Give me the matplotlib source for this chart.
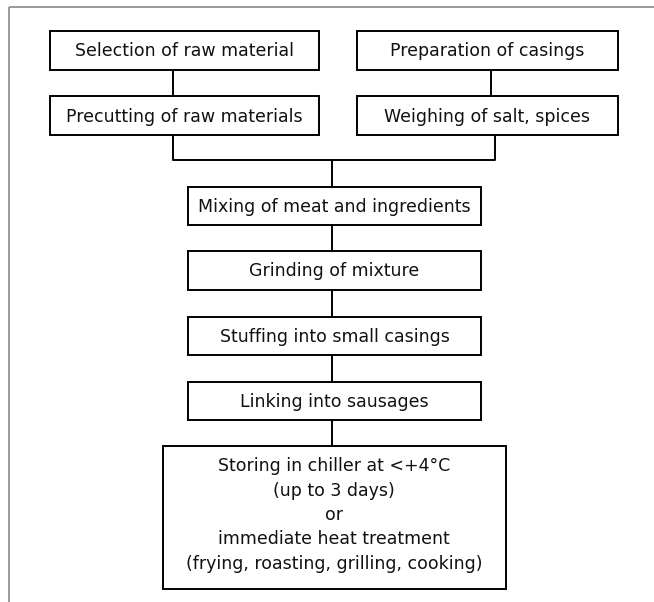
import matplotlib
matplotlib.use('Agg')
import matplotlib.pyplot as plt
from matplotlib.patches import Rectangle

# flowchart steps
left_steps = ['Selection of raw material', 'Precutting of raw materials']
right_steps = ['Preparation of casings', 'Weighing of salt, spices']
main_steps = ['Mixing of meat and ingredients', 'Grinding of mixture',
              'Stuffing into small casings', 'Linking into sausages']
final_lines = ['Storing in chiller at <+4°C', '(up to 3 days)', 'or',
               'immediate heat treatment', '(frying, roasting, grilling, cooking)']

W, H = 654, 602
fig = plt.figure(figsize=(W/100, H/100), dpi=100)
ax = fig.add_axes([0, 0, 1, 1])
ax.set_xlim(0, W)
ax.set_ylim(H, 0)
ax.axis('off')

lw = 1.4
fs = 12.5
tc = '#111111'

def box(x0, x1, y0, y1, text):
    ax.add_patch(Rectangle((x0, y0), x1 - x0, y1 - y0, fill=False,
                           ec='black', lw=lw))
    ax.text((x0 + x1)/2, (y0 + y1)/2 + 1, text, ha='center', va='center',
            fontsize=fs, color=tc)

def line(xs, ys, c='black', w=lw):
    ax.plot(xs, ys, color=c, lw=w, solid_capstyle='butt')

# outer frame (top and left only)
line([9, W], [7, 7], '#888888', 1.2)
line([9, 9], [7, H], '#888888', 1.2)

# two side columns
row_y = [(31, 70), (96, 135)]
for i, (y0, y1) in enumerate(row_y):
    box(50, 319, y0, y1, left_steps[i])
    box(357, 618, y0, y1, right_steps[i])
line([173, 173], [70, 96])
line([491, 491], [70, 96])

# join
line([173, 173, 495, 495], [135, 160, 160, 135])
line([332, 332], [160, 187])

# main column
main_y = [(187, 225), (251, 290), (317, 355), (382, 420)]
for i, (y0, y1) in enumerate(main_y):
    box(188, 481, y0, y1, main_steps[i])
    nxt = main_y[i+1][0] if i + 1 < len(main_y) else 446
    line([332, 332], [y1, nxt])

# final box
ax.add_patch(Rectangle((163, 446), 506 - 163, 589 - 446, fill=False,
                       ec='black', lw=lw))
for k, t in enumerate(final_lines):
    ax.text(334, 466 + k*24.5, t, ha='center', va='center',
            fontsize=fs, color=tc)

fig.savefig('out.png', dpi=100, facecolor='white')
